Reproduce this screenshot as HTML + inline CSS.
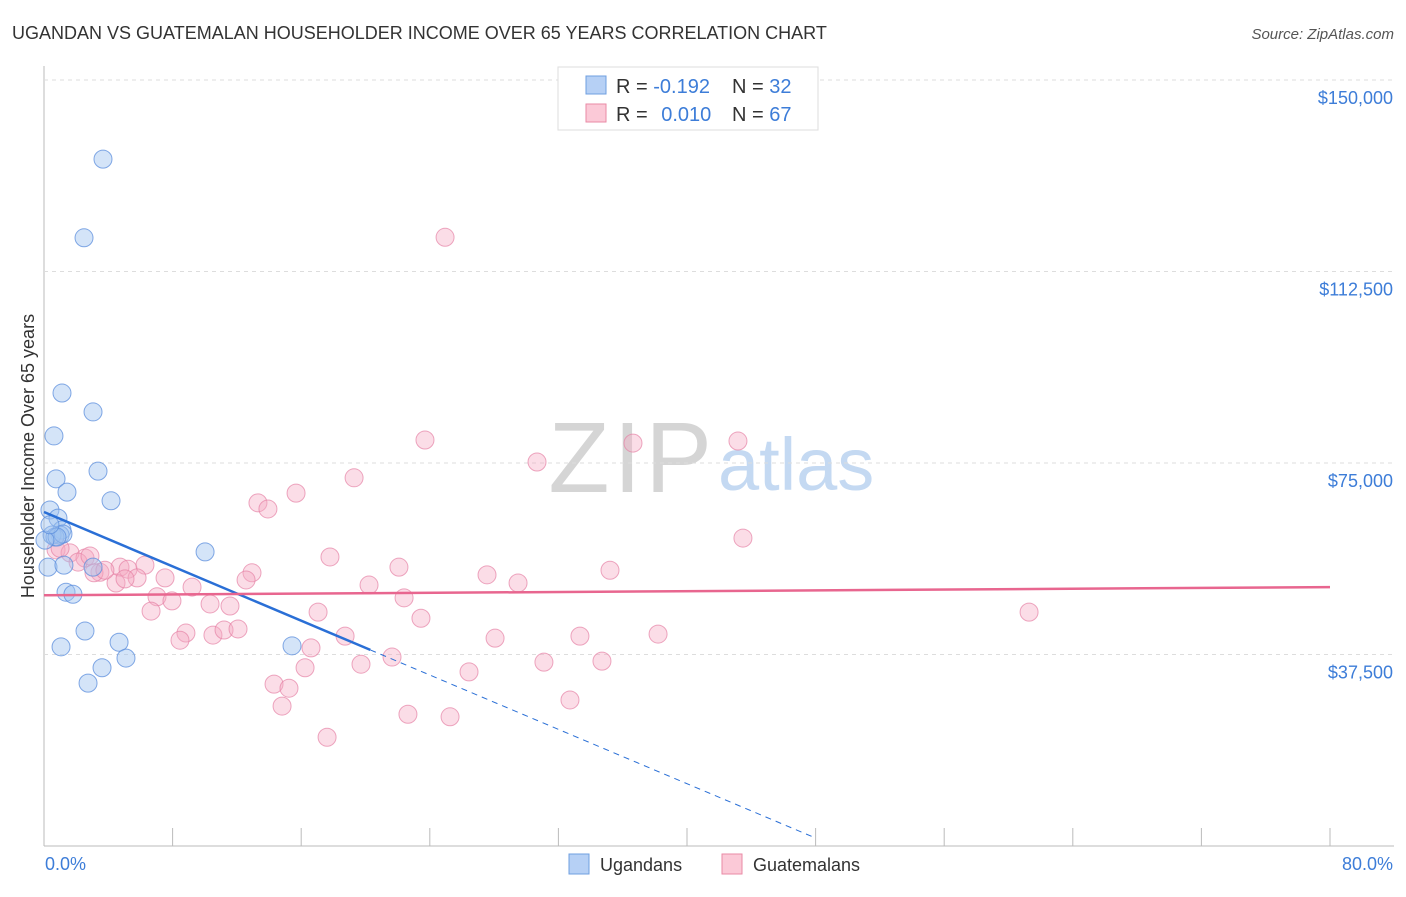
<!DOCTYPE html>
<html><head><meta charset="utf-8"><style>
body{margin:0;background:#fff;font-family:"Liberation Sans",sans-serif;}
svg text{font-family:"Liberation Sans",sans-serif;}
</style></head><body>
<svg id="c" width="1406" height="892" xmlns="http://www.w3.org/2000/svg">
<text x="12" y="39" font-size="18" fill="#333">UGANDAN VS GUATEMALAN HOUSEHOLDER INCOME OVER 65 YEARS CORRELATION CHART</text>
<text x="1394" y="39" font-size="15" fill="#555" text-anchor="end" font-style="italic">Source: ZipAtlas.com</text>
<text x="716" y="492" font-size="100" fill="#d5d5d5" text-anchor="end" letter-spacing="4" font-family="Liberation Serif">ZIP</text>
<text x="718" y="490" font-size="74" fill="#c4d9f2">atlas</text>
<g id="grid"></g>
<g id="pts"></g>
<g id="trend"></g>
<text transform="translate(34,456) rotate(-90)" font-size="18" fill="#333" text-anchor="middle">Householder Income Over 65 years</text>
<text x="45" y="870" font-size="18" fill="#3d7dd8">0.0%</text>
<text x="1393" y="870" font-size="18" fill="#3d7dd8" text-anchor="end">80.0%</text>
<g>
<rect x="558" y="67" width="260" height="63" fill="#fff" stroke="#ddd"/>
<rect x="586" y="76" width="20" height="18" fill="#b6d0f5" stroke="#6f9fe0"/>
<rect x="586" y="104" width="20" height="18" fill="#fbc9d7" stroke="#e98aa6"/>
<text x="616" y="93" font-size="20" fill="#333">R = <tspan fill="#3d7dd8">-0.192</tspan><tspan x="732">N = </tspan><tspan fill="#3d7dd8">32</tspan></text>
<text x="616" y="121" font-size="20" fill="#333">R = <tspan fill="#3d7dd8" dx="8">0.010</tspan><tspan x="732">N = </tspan><tspan fill="#3d7dd8">67</tspan></text>
</g>
<g>
<rect x="569" y="854" width="20" height="20" fill="#b6d0f5" stroke="#6f9fe0"/>
<text x="600" y="871" font-size="18" fill="#333">Ugandans</text>
<rect x="722" y="854" width="20" height="20" fill="#fbc9d7" stroke="#e98aa6"/>
<text x="753" y="871" font-size="18" fill="#333">Guatemalans</text>
</g>
</svg>
<script>
const yTicks=[37500,75000,112500,150000];
const yTickLabels=["$37,500","$75,000","$112,500","$150,000"];
const xTicks=[0,8,16,24,32,40,48,56,64,72,80];
const ugX=[3.67,2.49,1.12,3.05,0.62,3.36,0.75,1.43,4.17,0.37,0.87,1.12,1.0,0.5,0.68,1.18,0.25,1.24,3.05,1.37,1.80,10.02,2.55,1.06,4.67,5.10,3.61,2.74,15.43,0.81,0.06,0.37];
const ugY=[134500,119100,88700,85000,80300,73400,71900,69300,67600,65800,64200,61900,60900,60900,60500,61100,54600,55000,54600,49700,49300,57600,42100,39000,39900,36800,34900,31900,39200,60500,59900,62900];
const guX=[24.95,23.70,36.64,43.17,30.67,19.29,15.68,13.31,13.93,43.48,17.79,0.75,1.62,2.55,2.12,3.48,4.73,5.23,6.28,7.53,5.79,4.48,3.11,12.94,22.08,35.21,27.56,20.22,29.49,12.57,9.21,7.03,7.96,10.33,11.57,6.66,17.05,22.40,23.45,61.28,18.73,28.06,33.34,38.20,8.83,8.46,10.51,11.20,12.07,16.61,16.24,19.72,21.65,26.44,31.10,34.71,14.31,15.24,14.81,32.72,22.64,25.26,17.61,1.0,2.86,3.79,5.04];
const guY=[119200,79500,78900,79300,75200,72100,69100,67200,66000,60300,56600,58000,57400,56400,55600,53600,54600,54200,55000,52500,52500,51500,53500,53500,54600,54000,53100,51100,51500,52100,50700,48800,48000,47400,47000,46000,45800,48600,44600,45800,41100,40700,41100,41500,41700,40300,41300,42300,42500,38800,34900,35600,37000,34100,36000,36200,31700,30900,27400,28600,25800,25300,21300,58300,56800,54000,52300];
const ugTrend=[65400,38400,1560];
const ugTrendX=[0,20.3,48];
const guTrend=[49100,50700];
const guTrendX=[0,80];
const NS="http://www.w3.org/2000/svg";
const X=v=>44+v/80*1286, Y=v=>846-v/37500*191.5;
function mk(t,a,p){const e=document.createElementNS(NS,t);for(const k in a)e.setAttribute(k,a[k]);p.appendChild(e);return e;}
const g=document.getElementById('grid');
mk('line',{x1:44,y1:66,x2:44,y2:846,stroke:'#bbb'},g);
mk('line',{x1:44,y1:846,x2:1394,y2:846,stroke:'#bbb'},g);
yTicks.forEach((t,i)=>{
 const l=mk('line',{x1:44,y1:Y(t),x2:1394,y2:Y(t),stroke:'#ddd','stroke-dasharray':'4,4'},g);
 
 
 const tx=mk('text',{x:1393,y:Y(t)+24,'font-size':18,fill:'#3d7dd8','text-anchor':'end'},g);
 tx.textContent=yTickLabels[i];
 
 
});
xTicks.forEach(t=>{
 const l=mk('line',{x1:X(t),y1:828,x2:X(t),y2:846,stroke:'#bbb'},g);
 
 
});
const p=document.getElementById('pts');
guX.forEach((v,i)=>{
 const c=mk('circle',{cx:X(v),cy:Y(guY[i]),r:9,fill:'rgba(245,170,195,0.4)',stroke:'rgba(230,130,165,0.7)','stroke-width':1},p);
 
 
});
ugX.forEach((v,i)=>{
 const c=mk('circle',{cx:X(v),cy:Y(ugY[i]),r:9,fill:'rgba(160,195,240,0.45)',stroke:'rgba(90,140,220,0.75)','stroke-width':1},p);
 
 
});
const tr=document.getElementById('trend');
const a=mk('line',{x1:X(ugTrendX[0]),y1:Y(ugTrend[0]),x2:X(ugTrendX[1]),y2:Y(ugTrend[1]),stroke:'#2a6fd6','stroke-width':2.5},tr);


const b=mk('line',{x1:X(ugTrendX[1]),y1:Y(ugTrend[1]),x2:X(ugTrendX[2]),y2:Y(ugTrend[2]),stroke:'#2a6fd6','stroke-width':1,'stroke-dasharray':'6,5'},tr);


const c2=mk('line',{x1:X(guTrendX[0]),y1:Y(guTrend[0]),x2:X(guTrendX[1]),y2:Y(guTrend[1]),stroke:'#e8668f','stroke-width':2.5},tr);


</script>
</body></html>
